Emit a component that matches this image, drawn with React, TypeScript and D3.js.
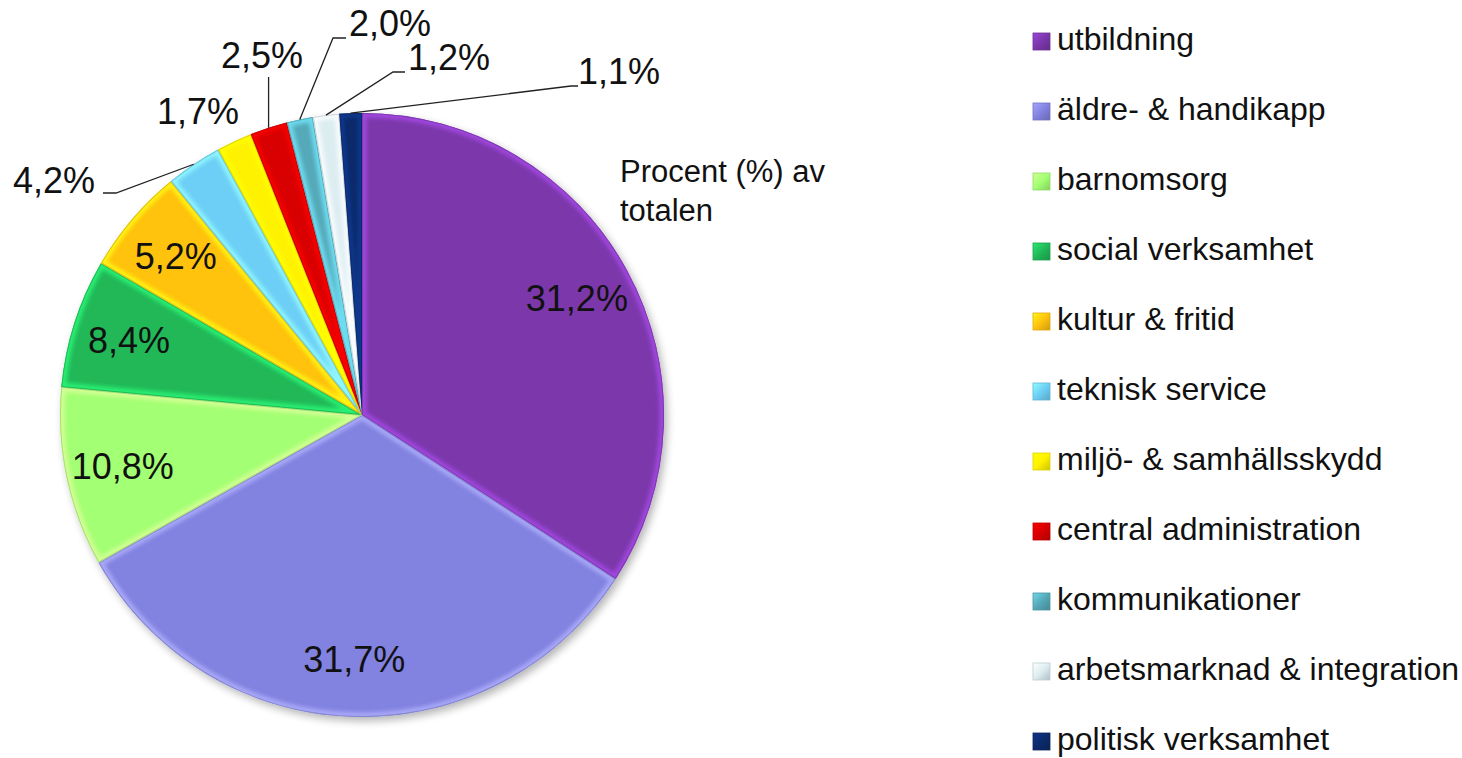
import * as d3 from "d3";

// legend order = slice order, clockwise from 12 o'clock
const categories = [
  "utbildning",
  "äldre- & handikapp",
  "barnomsorg",
  "social verksamhet",
  "kultur & fritid",
  "teknisk service",
  "miljö- & samhällsskydd",
  "central administration",
  "kommunikationer",
  "arbetsmarknad & integration",
  "politisk verksamhet",
];

// slice sizes as drawn (measured from the slice angles in the picture)
const sliceShares = [34.1, 32.7, 9.6, 6.9, 5.7, 3.0, 1.9, 2.0, 1.4, 1.4, 1.2];

// printed data labels
const labelValues = [31.2, 31.7, 10.8, 8.4, 5.2, 4.2, 1.7, 2.5, 2.0, 1.2, 1.1];

const colors = [
  "#7b37ab",
  "#8282e0",
  "#a3ff73",
  "#20b858",
  "#ffc20e",
  "#6dcff6",
  "#fff200",
  "#d80000",
  "#55a9b8",
  "#dcedf2",
  "#0c2a6b",
];

const WIDTH = 1462;
const HEIGHT = 758;
const CX = 362;
const CY = 415;
const R = 302;
const FONT = "'Liberation Sans', Arial, sans-serif";

// labels placed outside the pie (index -> text centre / baseline and leader knee)
type Outside = { x: number; y: number; knee?: [number, number][]; vertical?: number };
const OUTSIDE: Record<number, Outside> = {
  5: { x: 54, y: 193, knee: [[116, 193], [103, 193]] },
  6: { x: 198, y: 124 },
  7: { x: 262, y: 68, vertical: 77 },
  8: { x: 390, y: 36, knee: [[333, 38], [346, 38]] },
  9: { x: 449, y: 70, knee: [[393, 72], [405, 72]] },
  10: { x: 619, y: 84, knee: [[571, 86], [578, 86]] },
};

const sv = d3.formatLocale({
  decimal: ",",
  thousands: " ",
  grouping: [3],
  currency: ["", " kr"],
});
const fmt = (v: number) => sv.format(".1f")(v) + "%";

export default function App() {
  const pie = d3
    .pie<number>()
    .sort(null)
    .startAngle(0)
    .endAngle(2 * Math.PI)
    .value((d) => d);
  const arcs = pie(sliceShares);

  const arc = d3.arc<d3.PieArcDatum<number>>().innerRadius(0).outerRadius(R);
  const labelArc = d3
    .arc<d3.PieArcDatum<number>>()
    .innerRadius(R * 0.81)
    .outerRadius(R * 0.81);
  const edgeArc = d3.arc<d3.PieArcDatum<number>>().innerRadius(R).outerRadius(R);

  const line = d3.line();

  const legendY = (i: number) => 50 + i * 70;

  return (
    <svg
      width={WIDTH}
      height={HEIGHT}
      style={{ position: "absolute", left: 0, top: 0, background: "#fff" }}
      fontFamily={FONT}
    >
      <defs>
        <filter id="shadow" x="-10%" y="-10%" width="125%" height="125%">
          <feGaussianBlur in="SourceAlpha" stdDeviation="4" />
          <feOffset dx="3" dy="4" result="off" />
          <feComponentTransfer>
            <feFuncA type="linear" slope="0.3" />
          </feComponentTransfer>
          <feMerge>
            <feMergeNode />
            <feMergeNode in="SourceGraphic" />
          </feMerge>
        </filter>
        <filter id="soft" x="-5%" y="-5%" width="110%" height="110%">
          <feGaussianBlur stdDeviation="2.2" />
        </filter>
        {arcs.map((a, i) => (
          <clipPath id={`clip-${i}`} key={i}>
            <path d={arc(a) || ""} />
          </clipPath>
        ))}
        {colors.map((c, i) => (
          <linearGradient id={`lg-${i}`} key={i} x1="0" y1="0" x2="1" y2="1">
            <stop offset="0%" stopColor={d3.color(c)!.brighter(0.7).formatHex()} />
            <stop offset="50%" stopColor={c} />
            <stop offset="100%" stopColor={d3.color(c)!.darker(0.6).formatHex()} />
          </linearGradient>
        ))}
      </defs>

      <g transform={`translate(${CX},${CY})`}>
        <g filter="url(#shadow)">
          {arcs.map((a, i) => (
            <path key={i} d={arc(a) || ""} fill={colors[i]} />
          ))}
        </g>
        {/* bevel: soft light edge inside each slice, dark rim */}
        {arcs.map((a, i) => (
          <g key={i} clipPath={`url(#clip-${i})`}>
            <path
              d={arc(a) || ""}
              fill="none"
              stroke={d3.color(colors[i])!.brighter(0.9).formatHex()}
              strokeWidth={9}
              opacity={0.8}
              filter="url(#soft)"
            />
            <path
              d={arc(a) || ""}
              fill="none"
              stroke={d3.color(colors[i])!.darker(0.8).formatHex()}
              strokeWidth={2}
              opacity={0.5}
            />
          </g>
        ))}

        {/* inside labels */}
        {arcs.map((a, i) => {
          if (OUTSIDE[i]) return null;
          const [x, y] = labelArc.centroid(a);
          return (
            <text
              key={i}
              x={x}
              y={y + 13}
              textAnchor="middle"
              fontSize={36}
              fill="#111"
            >
              {fmt(labelValues[i])}
            </text>
          );
        })}
      </g>

      {/* outside labels with leader lines */}
      {arcs.map((a, i) => {
        const o = OUTSIDE[i];
        if (!o) return null;
        const [ex, ey] = edgeArc.centroid(a);
        const start: [number, number] = [ex + CX, ey + CY];
        let pts: [number, number][] | null = null;
        if (o.vertical !== undefined) pts = [start, [start[0], o.vertical]];
        else if (o.knee) pts = [start, ...o.knee];
        return (
          <g key={i}>
            {pts && (
              <path d={line(pts) || ""} fill="none" stroke="#222" strokeWidth={1.3} />
            )}
            <text x={o.x} y={o.y} textAnchor="middle" fontSize={36} fill="#111">
              {fmt(labelValues[i])}
            </text>
          </g>
        );
      })}

      <text x={620} y={182} fontSize={31} fill="#111">
        Procent (%) av
      </text>
      <text x={620} y={221} fontSize={31} fill="#111">
        totalen
      </text>

      {/* legend */}
      {categories.map((c, i) => (
        <g key={c}>
          <rect
            x={1033}
            y={legendY(i) - 17}
            width={17}
            height={17}
            fill={`url(#lg-${i})`}
            stroke={d3.color(colors[i])!.darker(0.4).formatHex()}
            strokeWidth={0.8}
          />
          <text x={1057} y={legendY(i)} fontSize={32} fill="#111">
            {c}
          </text>
        </g>
      ))}
    </svg>
  );
}
